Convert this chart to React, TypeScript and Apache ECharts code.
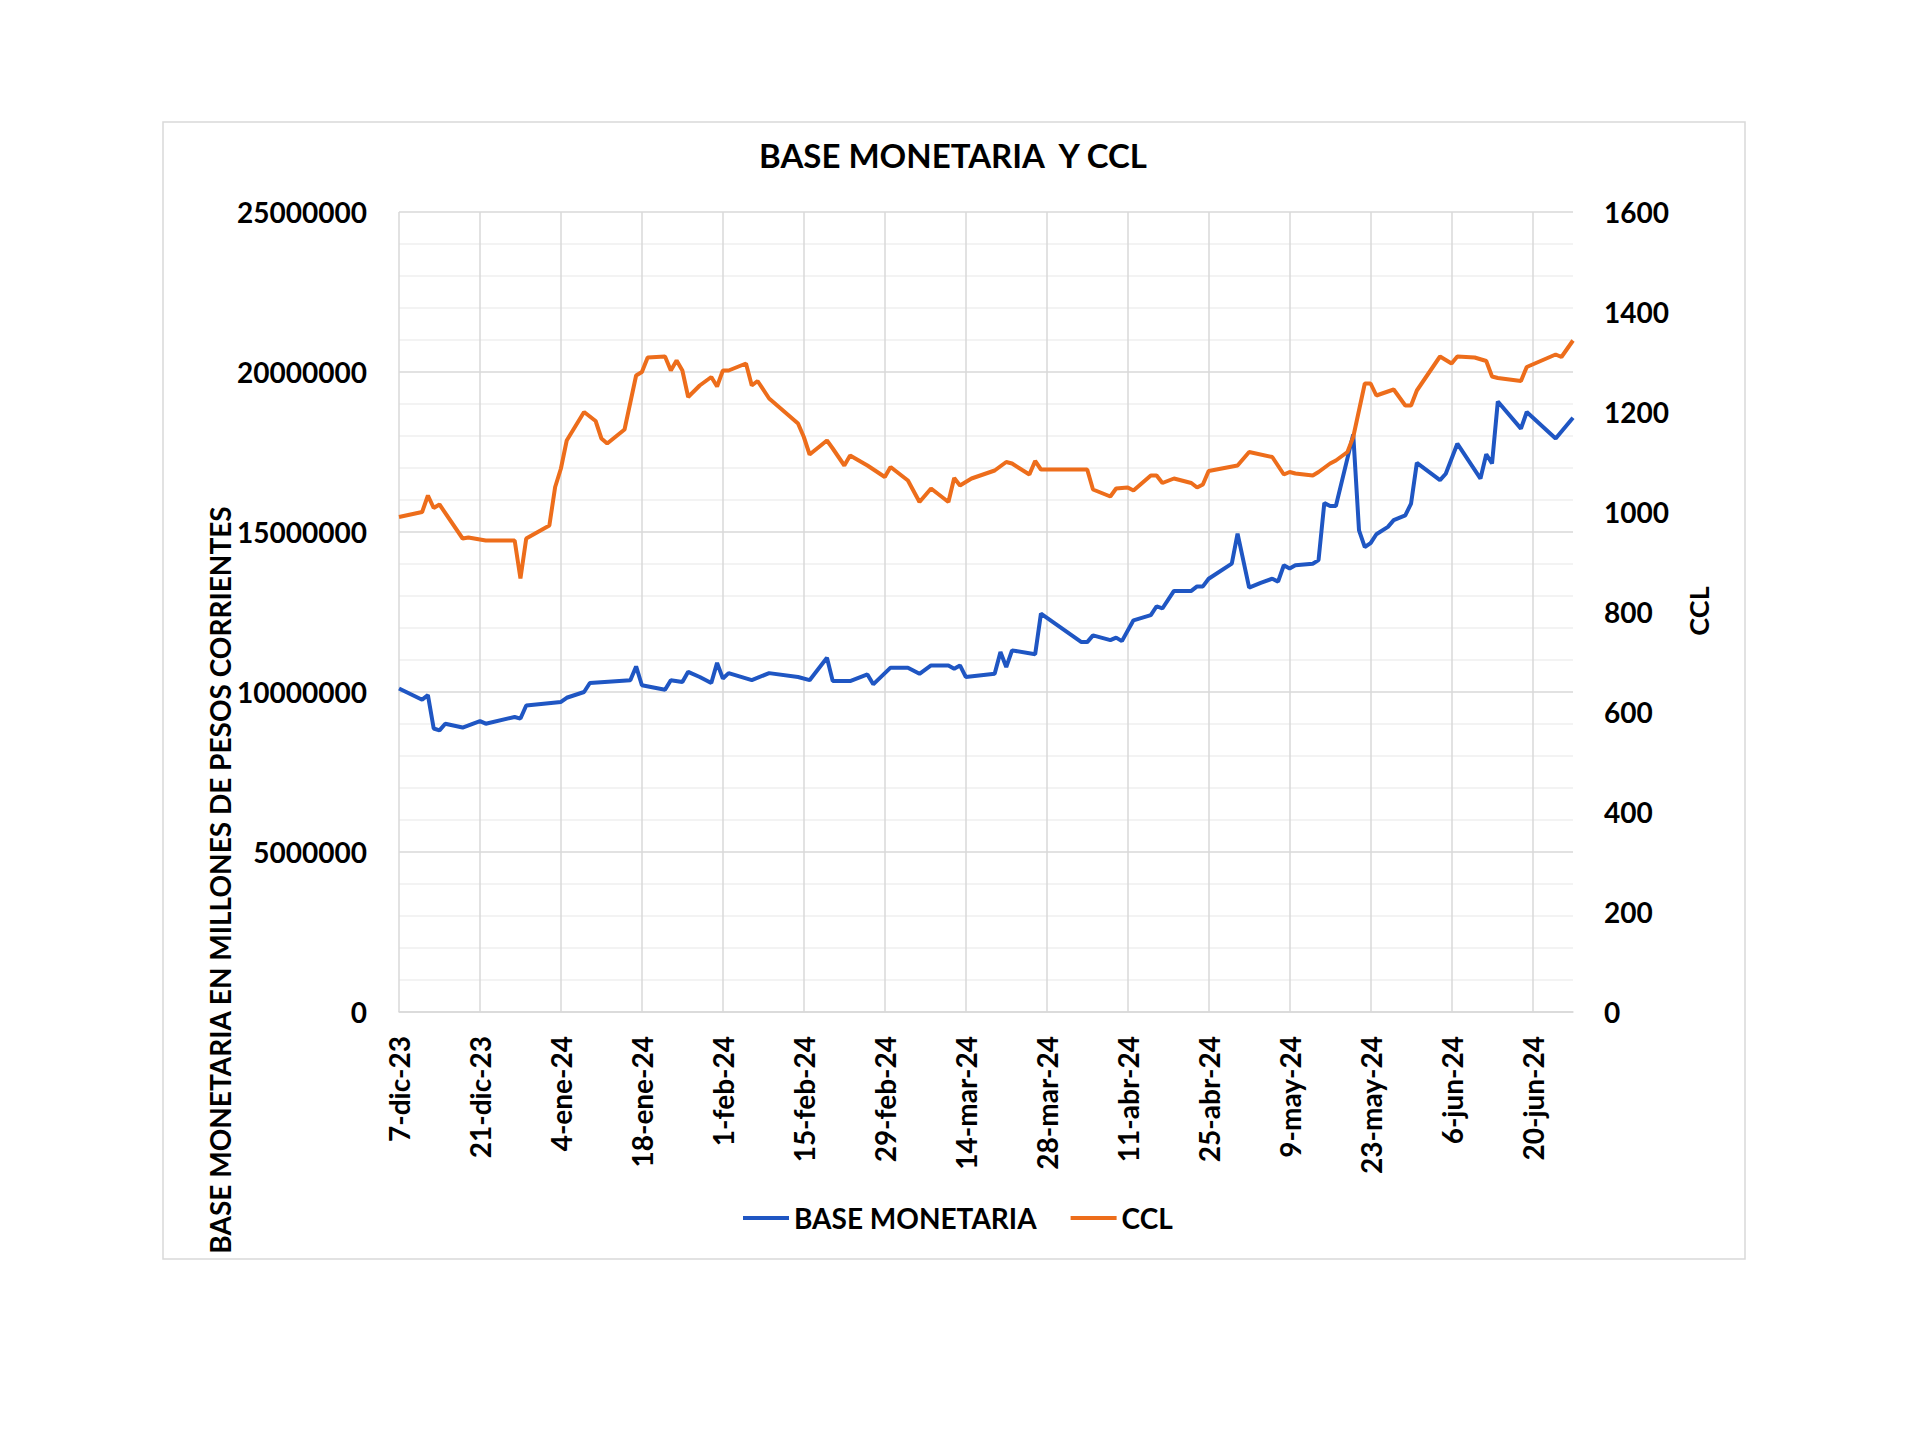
import React, { useEffect, useRef } from "react";
import * as echarts from "echarts";

// Day offsets counted from 7-dic-2023
const MONTHS = ["ene", "feb", "mar", "abr", "may", "jun", "jul", "ago", "sep", "oct", "nov", "dic"];
const xTickStep = 14;
const xMaxDay = 203;

const cclDays = [
  0, 4, 5, 6, 7, 11, 12, 15, 20, 21, 22, 26, 27, 28, 29, 32, 34, 35, 36, 39,
  41, 42, 43, 46, 47, 48, 49, 50, 52, 54, 55, 56, 57, 60, 61, 62, 64, 69, 70, 71,
  74, 75, 77, 78, 81, 84, 85, 88, 90, 92, 95, 96, 97, 99, 103, 105, 106, 109, 110, 111,
  119, 120, 123, 124, 126, 127, 130, 131, 132, 134, 137, 138, 139, 140, 145, 147, 151, 153, 154, 155,
  158, 159, 161, 162, 164, 165, 167, 168, 169, 172, 174, 175, 176, 180, 182, 183, 186, 188, 189, 190,
  194, 195, 200, 201, 203,
];
const cclValues = [
  990, 1000, 1033, 1008, 1015, 947, 949, 943, 943, 867, 947, 973, 1050, 1087, 1143, 1200, 1182, 1147, 1137, 1165,
  1273, 1280, 1309, 1311, 1283, 1303, 1283, 1230, 1253, 1270, 1251, 1283, 1283, 1297, 1253, 1262, 1227, 1177, 1150, 1115,
  1143, 1127, 1093, 1113, 1093, 1070, 1090, 1063, 1020, 1047, 1020, 1068, 1053, 1067, 1083, 1100, 1097, 1075, 1102, 1085,
  1085, 1045, 1031, 1047, 1049, 1043, 1073, 1073, 1058, 1067, 1058, 1049, 1055, 1082, 1093, 1120, 1110, 1075, 1080, 1077,
  1073, 1080, 1097, 1103, 1120, 1150, 1257, 1257, 1233, 1245, 1213, 1213, 1243, 1311, 1297, 1311, 1309, 1302, 1271, 1268,
  1262, 1290, 1315, 1310, 1343,
];

const baseDays = [
  0, 4, 5, 6, 7, 8, 11, 14, 15, 20, 21, 22, 28, 29, 32, 33, 40, 41, 42, 46,
  47, 49, 50, 52, 54, 55, 56, 57, 61, 64, 69, 71, 74, 75, 78, 81, 82, 85, 88, 90,
  92, 95, 96, 97, 98, 103, 104, 105, 106, 110, 111, 118, 119, 120, 123, 124, 125, 127, 130, 131,
  132, 134, 137, 138, 139, 140, 144, 145, 147, 149, 151, 152, 153, 154, 155, 158, 159, 160, 161, 162,
  165, 166, 167, 168, 169, 171, 172, 174, 175, 176, 180, 181, 183, 187, 188, 189, 190, 194, 195, 200,
  203,
];
const baseValues = [
  10110000, 9760000, 9900000, 8860000, 8800000, 9010000, 8890000, 9090000, 9010000, 9220000,
  9170000, 9580000, 9690000, 9820000, 10000000, 10280000, 10370000, 10800000, 10210000, 10070000,
  10370000, 10310000, 10630000, 10470000, 10280000, 10910000, 10420000, 10590000, 10370000, 10590000,
  10470000, 10370000, 11070000, 10340000, 10340000, 10550000, 10240000, 10760000, 10760000, 10570000,
  10830000, 10830000, 10730000, 10830000, 10470000, 10570000, 11250000, 10780000, 11300000, 11180000,
  12450000, 11560000, 11560000, 11770000, 11620000, 11700000, 11590000, 12240000, 12400000, 12680000,
  12610000, 13160000, 13160000, 13300000, 13300000, 13540000, 14010000, 14950000, 13260000, 13410000,
  13540000, 13450000, 13960000, 13860000, 13960000, 14010000, 14120000, 15910000, 15810000, 15810000,
  18050000, 15050000, 14530000, 14650000, 14930000, 15160000, 15370000, 15520000, 15890000, 17160000,
  16620000, 16820000, 17760000, 16670000, 17430000, 17140000, 19080000, 18230000, 18750000, 17920000,
  18570000,
];

const leftTicks = { min: 0, max: 25000000, interval: 5000000 };
const rightTicks = { min: 0, max: 1600, interval: 200 };

const FONT = "Lato, 'Open Sans', sans-serif";
const BLUE = "#1f56c3";
const ORANGE = "#ed6d1b";

function dayLabel(v: number): string {
  if (v % xTickStep !== 0) return "";
  const dt = new Date(2023, 11, 7 + v);
  return `${dt.getDate()}-${MONTHS[dt.getMonth()]}-${String(dt.getFullYear()).slice(2)}`;
}

export default function App() {
  const ref = useRef<HTMLDivElement>(null);
  useEffect(() => {
    if (!ref.current) return;
    const chart = echarts.init(ref.current, undefined, { renderer: "svg" });
    const gridColor = "#d9d9d9";
    chart.setOption({
      animation: false,
      backgroundColor: "#ffffff",
      grid: { left: 399, top: 212, width: 1174, height: 800, containLabel: false },
      graphic: [
        {
          type: "rect",
          shape: { x: 163, y: 122, width: 1582, height: 1137 },
          style: { fill: "none", stroke: "#d9d9d9", lineWidth: 1.5 },
          silent: true,
        },
        {
          type: "text",
          x: 953,
          y: 155,
          style: {
            text: "BASE MONETARIA  Y CCL",
            font: `bold 33px ${FONT}`,
            fill: "#000000",
            align: "center",
            verticalAlign: "middle",
          },
        },
        {
          type: "text",
          x: 220,
          y: 880,
          rotation: Math.PI / 2,
          style: {
            text: "BASE MONETARIA EN MILLONES DE PESOS CORRIENTES",
            font: `bold 28px ${FONT}`,
            fill: "#000000",
            align: "center",
            verticalAlign: "middle",
          },
        },
        {
          type: "text",
          x: 1698,
          y: 611,
          rotation: Math.PI / 2,
          style: {
            text: "CCL",
            font: `bold 27px ${FONT}`,
            fill: "#000000",
            align: "center",
            verticalAlign: "middle",
          },
        },
      ],
      legend: {
        left: 743,
        top: 1204,
        padding: 0,
        icon: "rect",
        itemWidth: 46,
        itemHeight: 4,
        itemGap: 34,
        textStyle: { fontFamily: FONT, fontWeight: "bold", fontSize: 28, color: "#000000" },
        data: ["BASE MONETARIA", "CCL"],
      },
      xAxis: {
        type: "value",
        min: 0,
        max: xMaxDay,
        interval: xTickStep,
        axisLine: { show: true, lineStyle: { color: gridColor, width: 1.5 } },
        axisTick: { show: false },
        splitLine: { show: true, showMaxLine: false, lineStyle: { color: gridColor, width: 1.5 } },
        axisLabel: {
          rotate: 90,
          margin: 24,
          formatter: dayLabel,
          fontFamily: FONT,
          fontWeight: "bold",
          fontSize: 28,
          color: "#000000",
          showMaxLabel: false,
        },
      },
      yAxis: [
        {
          type: "value",
          min: leftTicks.min,
          max: leftTicks.max,
          interval: leftTicks.interval,
          axisLine: { show: false },
          axisTick: { show: false },
          splitLine: { show: true, lineStyle: { color: gridColor, width: 1.5 } },
          minorTick: { show: false, splitNumber: 5 },
          minorSplitLine: { show: true, lineStyle: { color: "#efefef", width: 1.5 } },
          axisLabel: {
            margin: 32,
            fontFamily: FONT,
            fontWeight: "bold",
            fontSize: 28,
            color: "#000000",
            formatter: (v: number) => String(v),
          },
        },
        {
          type: "value",
          position: "right",
          min: rightTicks.min,
          max: rightTicks.max,
          interval: rightTicks.interval,
          axisLine: { show: false },
          axisTick: { show: false },
          splitLine: { show: false },
          axisLabel: {
            margin: 31,
            fontFamily: FONT,
            fontWeight: "bold",
            fontSize: 28,
            color: "#000000",
            formatter: (v: number) => String(v),
          },
        },
      ],
      series: [
        {
          name: "BASE MONETARIA",
          type: "line",
          yAxisIndex: 0,
          symbol: "none",
          lineStyle: { color: BLUE, width: 4 },
          itemStyle: { color: BLUE },
          data: baseDays.map((d, i) => [d, baseValues[i]]),
        },
        {
          name: "CCL",
          type: "line",
          yAxisIndex: 1,
          symbol: "none",
          lineStyle: { color: ORANGE, width: 4 },
          itemStyle: { color: ORANGE },
          data: cclDays.map((d, i) => [d, cclValues[i]]),
        },
      ],
    });
    return () => chart.dispose();
  }, []);
  return (
    <div
      ref={ref}
      style={{ position: "absolute", left: 0, top: 0, width: 1920, height: 1435, background: "#ffffff" }}
    />
  );
}
